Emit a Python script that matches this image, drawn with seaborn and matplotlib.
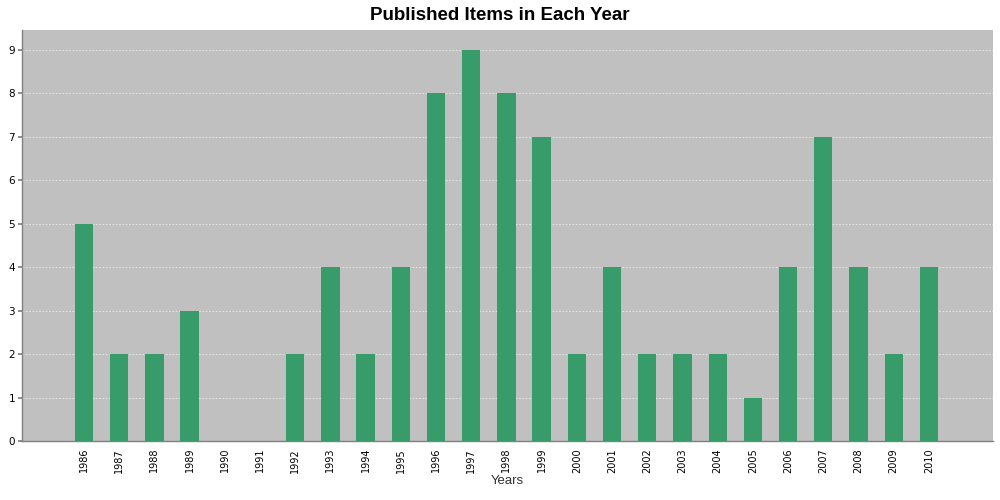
"""Published items per year - bar chart recreated with seaborn."""
import matplotlib
matplotlib.use("Agg")
import matplotlib.pyplot as plt
import seaborn as sns
import pandas as pd

years = [str(y) for y in range(1986, 2011)]
items = [5, 2, 2, 3, 0, 0, 2, 4, 2, 4, 8, 9, 8, 7, 2, 4, 2, 2, 2, 1, 4, 7, 4, 2, 4]

sns.set_theme(style="white")
plt.rcParams["font.family"] = ["Liberation Sans", "DejaVu Sans"]

df = pd.DataFrame({"year": years, "items": items})

fig = plt.figure(figsize=(10, 5), dpi=100)
ax = fig.add_axes([0.022, 0.118, 0.971, 0.822])
ax.set_facecolor("#c0c0c0")

sns.barplot(data=df, x="year", y="items", color="#389b6a", width=0.52,
            saturation=1, linewidth=0, edgecolor="none", ax=ax, zorder=3)

ax.set_xlim(-1.76, 25.82)
ax.set_ylim(0, 9.45)
ax.set_yticks(range(0, 10))
ax.yaxis.grid(True, color="#ececec", linestyle=(0, (2, 2)), linewidth=0.6, zorder=0)
ax.set_axisbelow(True)

ax.tick_params(axis="x", labelrotation=90, labelsize=7, length=0, pad=5,
               labelcolor="black")
ax.tick_params(axis="y", labelsize=7.5, length=3, color="#808080", left=True,
               pad=2, labelcolor="black")
for lab in ax.get_xticklabels() + ax.get_yticklabels():
    lab.set_family(["DejaVu Sans"])

for side in ["top", "right"]:
    ax.spines[side].set_visible(False)
for side in ["left", "bottom"]:
    ax.spines[side].set_color("#808080")
    ax.spines[side].set_linewidth(1)

ax.set_xlabel("Years", fontsize=9.5, color="#333333", va="center")
ax.xaxis.set_label_coords(0.5, -0.097)
ax.set_ylabel("")
fig.suptitle("Published Items in Each Year", fontsize=13.5, fontweight="bold",
             color="black", y=0.985)

fig.savefig("out.png", dpi=100)
